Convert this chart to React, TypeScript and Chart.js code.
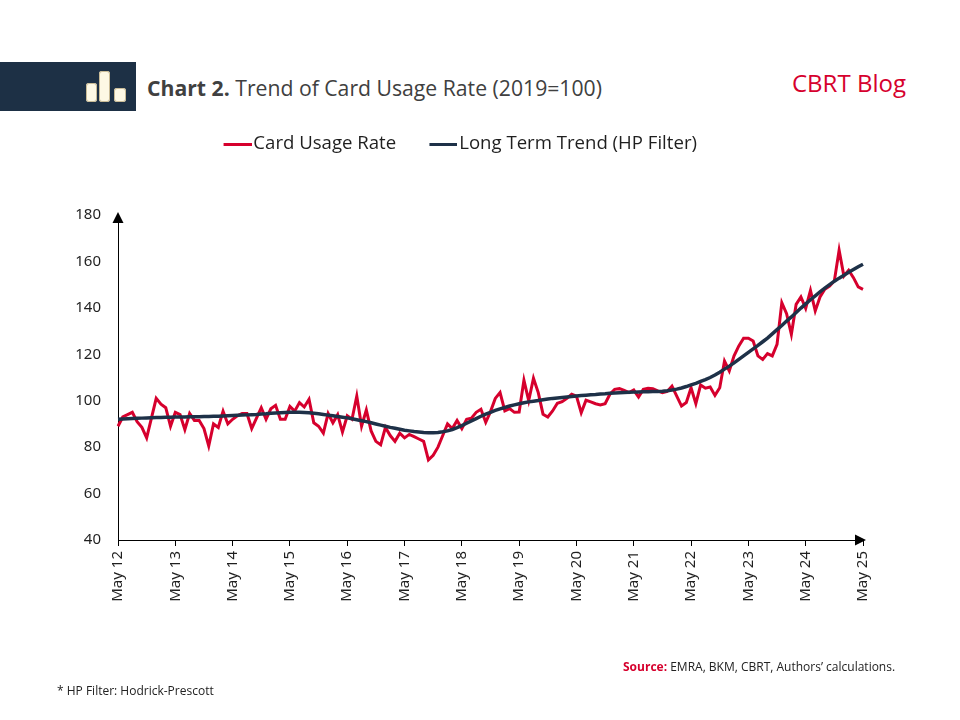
import React, { useEffect, useRef } from "react";
import { Chart, registerables } from "chart.js";

Chart.register(...registerables);

// ---- Data ----
const MONTH_NAMES = ["Jan", "Feb", "Mar", "Apr", "May", "Jun", "Jul", "Aug", "Sep", "Oct", "Nov", "Dec"];
const START_YEAR = 2012;
const START_MONTH_INDEX = 4; // May
const POINT_COUNT = 157; // May 2012 .. May 2025

const categories: string[] = Array.from({ length: POINT_COUNT }, (_, i) => {
  const m = (START_MONTH_INDEX + i) % 12;
  const y = START_YEAR + Math.floor((START_MONTH_INDEX + i) / 12);
  return `${MONTH_NAMES[m]} ${String(y).slice(2)}`;
});

const cardUsageRate: number[] = [
  89, 93, 94, 95, 91, 88.5, 84, 92.5, 101, 98.5, 97, 89,
  95, 94, 87.5, 94.5, 91.5, 91.5, 88, 80.5, 90, 88.5, 95.5, 90,
  92, 93.5, 94.5, 94.5, 88, 92.5, 97, 92, 96.5, 98, 92, 92,
  97.5, 95.5, 99.2, 97.3, 100.6, 90.5, 89, 86, 94.5, 90.5, 94, 86.5,
  93.5, 92, 102, 89, 96, 87, 82.5, 81, 88.5, 85, 82.5, 86,
  84, 85.5, 84.5, 83.5, 82.5, 74.5, 76.5, 80, 85, 90, 88, 91.5,
  88, 92, 92.5, 95, 96.3, 90.7, 95.3, 101, 103.5, 95.6, 96.6, 95,
  95.1, 108.8, 100, 109.7, 103.5, 94.2, 93, 95.6, 98.9, 99.6, 101, 102.8,
  102, 94.8, 100.2, 99.5, 98.7, 98.2, 98.7, 102.8, 104.9, 105.2, 104.5, 103.5,
  104.6, 101.6, 104.9, 105.4, 105.2, 104.2, 103.5, 104, 106.3, 102, 97.7, 99.2,
  105.6, 98.7, 106.8, 105.4, 105.9, 102.3, 105.6, 117.1, 112.8, 119.3, 123.6, 126.9,
  126.9, 125.7, 119.3, 117.8, 120.3, 119.3, 124.3, 142.2, 137.5, 128.6, 141.5, 144.7,
  139.8, 147.5, 138.7, 144.7, 148, 149.4, 151.6, 164.8, 153.7, 156.2, 153, 149,
  148,
];

const longTermTrend: number[] = [
  92.0, 92.1, 92.2, 92.3, 92.4, 92.5, 92.6, 92.7, 92.8, 92.8, 92.9, 92.9,
  93.0, 93.0, 93.0, 93.1, 93.1, 93.1, 93.2, 93.2, 93.3, 93.3, 93.4, 93.5,
  93.6, 93.7, 93.8, 93.9, 94.0, 94.1, 94.3, 94.4, 94.6, 94.7, 94.8, 94.9,
  95.0, 95.0, 95.0, 94.9, 94.8, 94.6, 94.4, 94.1, 93.8, 93.5, 93.2, 92.9,
  92.6, 92.2, 91.8, 91.4, 91.0, 90.5, 90.0, 89.5, 89.0, 88.5, 88.1, 87.7,
  87.3, 87.0, 86.7, 86.5, 86.3, 86.2, 86.2, 86.3, 86.6, 87.0, 87.6, 88.4,
  89.3, 90.3, 91.3, 92.3, 93.3, 94.2, 95.0, 95.8, 96.5, 97.1, 97.7, 98.2,
  98.7, 99.1, 99.5, 99.8, 100.1, 100.4, 100.7, 101.0, 101.2, 101.4, 101.6, 101.8,
  102.0, 102.2, 102.4, 102.6, 102.7, 102.9, 103.0, 103.2, 103.3, 103.4, 103.5, 103.6,
  103.7, 103.8, 103.9, 103.9, 104.0, 104.0, 104.1, 104.3, 104.6, 105.0, 105.5, 106.1,
  106.8, 107.5, 108.3, 109.1, 110.0, 111.1, 112.3, 113.6, 114.9, 116.3, 117.8, 119.3,
  120.8, 122.3, 123.8, 125.4, 127.0, 128.8, 130.6, 132.4, 134.3, 136.1, 138.0, 139.9,
  141.7, 143.5, 145.2, 146.9, 148.5, 150.0, 151.5, 152.8, 154.0, 155.3, 156.5, 157.7,
  158.8,
];

const Y_MIN = 40;
const Y_MAX = 180;
const Y_STEP = 20;

// ---- Styles ----
const RED = "#d6002d";
const NAVY = "#1e3148";
const TEXT = "#1f1f1f";
const LEGEND_FONT = 18.6;
const LEGEND_BOX = 20;

// legend swatch: a short line whose right end sits close to the label text
function makeSwatch(color: string): HTMLCanvasElement {
  const c = document.createElement("canvas");
  c.width = 35;
  c.height = 3;
  const g = c.getContext("2d")!;
  g.fillStyle = color;
  g.fillRect(7, 0, 28, 3);
  return c;
}

const arrowPlugin = {
  id: "axisArrows",
  afterDraw(chart: any) {
    const { ctx, chartArea } = chart;
    const { left, top, right, bottom } = chartArea;
    ctx.save();
    ctx.fillStyle = "#000";
    ctx.beginPath();
    ctx.moveTo(left, top - 3);
    ctx.lineTo(left - 5.5, top + 8);
    ctx.lineTo(left + 5.5, top + 8);
    ctx.closePath();
    ctx.fill();
    ctx.beginPath();
    ctx.moveTo(right + 3, bottom);
    ctx.lineTo(right - 8, bottom - 5.5);
    ctx.lineTo(right - 8, bottom + 5.5);
    ctx.closePath();
    ctx.fill();
    ctx.restore();
  },
};

const legendSpacerPlugin = {
  id: "legendSpacer",
  beforeLayout(chart: any) {
    const lg = chart.legend;
    if (lg && !lg.__patched) {
      const orig = lg.fit;
      lg.fit = function () {
        orig.call(this);
        this.height = 114;
      };
      lg.__patched = true;
    }
  },
};

function CardChart() {
  const ref = useRef<HTMLCanvasElement | null>(null);
  useEffect(() => {
    if (!ref.current) return;
    Chart.defaults.font.family = "'Noto Sans', sans-serif";
    const chart = new Chart(ref.current, {
      type: "line",
      data: {
        labels: categories,
        datasets: [
          {
            label: "Card Usage Rate",
            data: cardUsageRate,
            borderColor: RED,
            backgroundColor: RED,
            borderWidth: 3,
            pointRadius: 0,
            pointStyle: makeSwatch(RED),
            tension: 0,
            order: 1,
          },
          {
            label: "Long Term Trend (HP Filter)",
            data: longTermTrend,
            borderColor: NAVY,
            backgroundColor: NAVY,
            borderWidth: 3.5,
            pointRadius: 0,
            pointStyle: makeSwatch(NAVY),
            tension: 0,
            order: 0,
          },
        ],
      },
      options: {
        responsive: false,
        animation: false,
        layout: { padding: { top: 101, left: 58, right: 57, bottom: 100 } },
        plugins: {
          tooltip: { enabled: false },
          legend: {
            position: "top",
            align: "center",
            labels: {
              usePointStyle: true,
              pointStyleWidth: LEGEND_BOX,
              boxHeight: 18,
              padding: 33.7,
              color: TEXT,
              font: { family: "'Open Sans', sans-serif", size: LEGEND_FONT },
              sort: (a: any, b: any) => a.datasetIndex - b.datasetIndex,
            },
          },
        },
        scales: {
          x: {
            type: "category",
            offset: false,
            grid: {
              display: true,
              drawOnChartArea: false,
              drawTicks: true,
              tickLength: 6,
              tickColor: (c: any) => (c.index % 12 === 0 ? "#000" : "rgba(0,0,0,0)"),
              color: "rgba(0,0,0,0)",
            },
            border: { display: true, color: "#000", width: 1 },
            ticks: {
              autoSkip: false,
              minRotation: 90,
              maxRotation: 90,
              padding: 5,
              color: TEXT,
              font: { size: 15 },
              callback: (_v: any, i: number) => (i % 12 === 0 ? categories[i] : ""),
            },
            afterFit: (s: any) => {
              s.height = 80;
            },
          },
          y: {
            min: Y_MIN,
            max: Y_MAX,
            grid: { display: true, drawOnChartArea: false, drawTicks: false },
            border: { display: true, color: "#000", width: 1 },
            ticks: { stepSize: Y_STEP, padding: 17, color: TEXT, font: { size: 15 } },
            afterFit: (s: any) => {
              s.width = 60;
            },
          },
        },
      },
      plugins: [arrowPlugin, legendSpacerPlugin],
    } as any);
    return () => chart.destroy();
  }, []);
  return (
    <canvas
      ref={ref}
      width={920}
      height={720}
      style={{ position: "absolute", left: 0, top: 0, width: 920, height: 720 }}
    />
  );
}

export default function App() {
  const bar = (left: number, top: number, w: number, h: number) => (
    <div
      style={{
        position: "absolute",
        left,
        top,
        width: w,
        height: h,
        background: "#fdf8e4",
        borderRadius: 3,
        boxShadow: "0 0 0 1px #c9bb96 inset",
      }}
    />
  );
  return (
    <div
      style={{
        position: "absolute",
        left: 0,
        top: 0,
        width: 960,
        height: 720,
        background: "#fff",
        overflow: "hidden",
        fontFamily: "'Open Sans', sans-serif",
      }}
    >
      <div style={{ position: "absolute", left: 0, top: 62, width: 136, height: 49, background: "#1d3045" }} />
      {bar(86, 83, 11, 19)}
      {bar(99, 71, 11, 31)}
      {bar(114, 88, 12, 14)}
      <div
        style={{
          position: "absolute",
          left: 147,
          top: 75,
          lineHeight: "26px",
          fontSize: 21.2,
          color: "#404040",
          whiteSpace: "nowrap",
        }}
      >
        <b>Chart 2.</b> Trend of Card Usage Rate (2019=100)
      </div>
      <div
        style={{
          position: "absolute",
          left: 792,
          top: 69,
          lineHeight: "28px",
          fontSize: 24,
          color: RED,
          whiteSpace: "nowrap",
        }}
      >
        CBRT Blog
      </div>
      <CardChart />
      <div
        style={{
          position: "absolute",
          left: 623,
          top: 659,
          lineHeight: "16px",
          fontSize: 12,
          color: "#222",
          whiteSpace: "nowrap",
        }}
      >
        <b style={{ color: RED }}>Source:</b> EMRA, BKM, CBRT, Authors’ calculations.
      </div>
      <div
        style={{
          position: "absolute",
          left: 57,
          top: 683,
          lineHeight: "16px",
          fontSize: 12,
          color: "#222",
          whiteSpace: "nowrap",
        }}
      >
        * HP Filter: Hodrick-Prescott
      </div>
    </div>
  );
}
